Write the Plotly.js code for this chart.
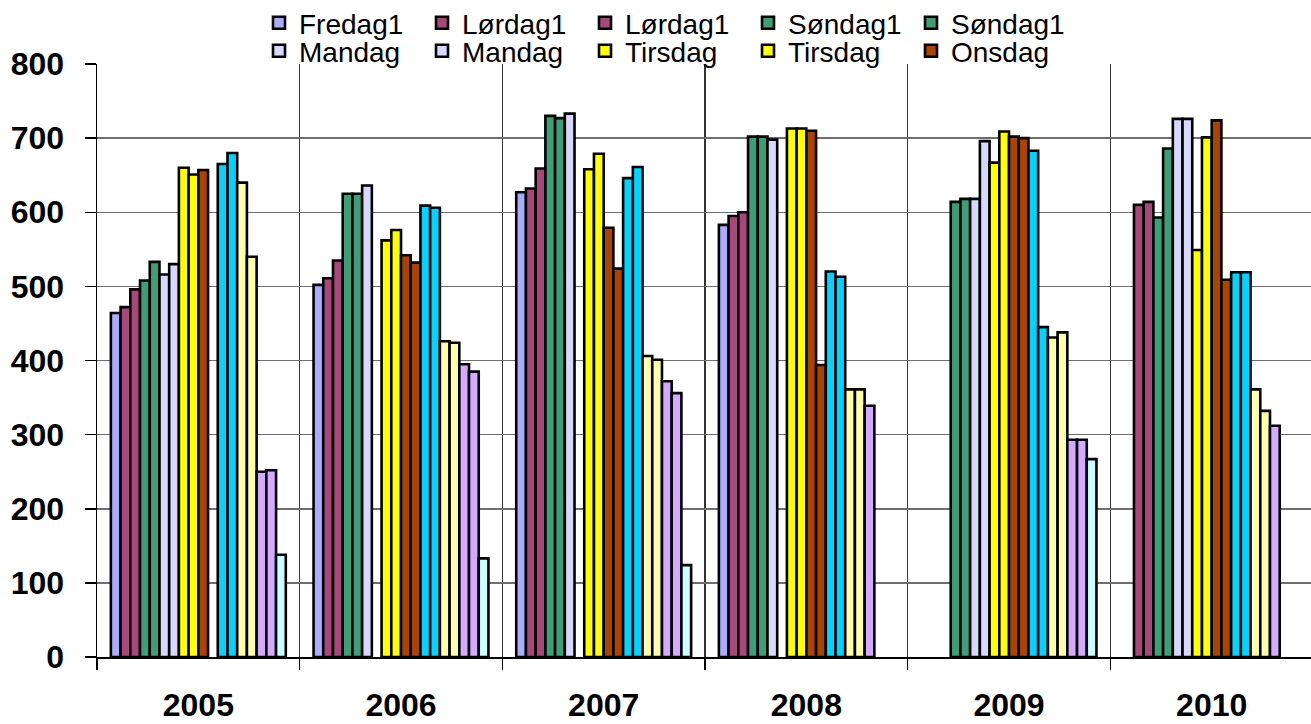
<!DOCTYPE html>
<html>
<head>
<meta charset="utf-8">
<script src="https://cdn.plot.ly/plotly-3.0.1.min.js"></script>
<style>
  html, body { margin: 0; padding: 0; background: #ffffff; }
  #chart { width: 1311px; height: 724px; }
</style>
</head>
<body>
<div id="chart"></div>
<script>
// ---- data ----
var years = ["2005", "2006", "2007", "2008", "2009", "2010"];

var fredag1   = [464, 502, 627, 583, null, null];
var lordag1a  = [472, 511, 632, 595, null, 610];
var lordag1b  = [496, 535, 659, 600, null, 614];
var sondag1a  = [508, 625, 730, 702, 614, 593];
var sondag1b  = [533, 625, 727, 702, 618, 686];
var mandagA   = [516, 636, 733, 698, 618, 726];
var mandagB   = [530, null, null, null, 696, 726];
var tirsdagA  = [660, 562, 658, 713, 667, 549];
var tirsdagB  = [651, 576, 679, 713, 709, 701];
var onsdagA   = [657, 542, 579, 710, 702, 724];
var onsdagB   = [null, 532, 524, 394, 700, 509];
var serie12   = [665, 609, 646, 520, 683, 519];
var serie13   = [680, 606, 661, 513, 445, 519];
var serie14   = [640, 426, 406, 361, 431, 361];
var serie15   = [540, 424, 401, 361, 438, 332];
var serie16   = [250, 395, 372, 339, 293, 312];
var serie17   = [252, 385, 356, null, 293, null];
var serie18   = [138, 133, 124, null, 267, null];

var seriesNames = ["Fredag1", "Lørdag1", "Lørdag1", "Søndag1", "Søndag1",
                   "Mandag", "Mandag", "Tirsdag", "Tirsdag", "Onsdag",
                   "Onsdag", "Torsdag", "Torsdag", "Fredag", "Fredag",
                   "Lørdag", "Lørdag", "Søndag"];
var seriesValues = [fredag1, lordag1a, lordag1b, sondag1a, sondag1b,
                    mandagA, mandagB, tirsdagA, tirsdagB, onsdagA,
                    onsdagB, serie12, serie13, serie14, serie15,
                    serie16, serie17, serie18];
var seriesColors = ["#a9acff", "#a8487a", "#a8487a", "#3c9f78", "#3c9f78",
                    "#d8d8ff", "#d8d8ff", "#ffff00", "#ffff00", "#aa4400",
                    "#aa4400", "#00d4ff", "#00d4ff", "#ffffaa", "#ffffaa",
                    "#d4aaff", "#d4aaff", "#ccffff"];

// ---- traces ----
var traces = seriesValues.map(function (vals, i) {
  return {
    type: "bar",
    name: seriesNames[i],
    x: years,
    y: vals,
    marker: { color: seriesColors[i], line: { color: "#000000", width: 2.6 } },
    showlegend: i < 10,
    legend: i < 5 ? "legend" : "legend2",
    hoverinfo: "x+y+name"
  };
});

var font = "Liberation Sans, Arial, sans-serif";
var legendCommon = {
  orientation: "h",
  xref: "container",
  yref: "container",
  x: 259 / 1311,
  xanchor: "left",
  yanchor: "middle",
  bgcolor: "rgba(0,0,0,0)",
  borderwidth: 0,
  entrywidth: 118,
  entrywidthmode: "pixels",
  font: { family: font, size: 28, color: "#000000" },
  traceorder: "normal"
};

var layout = {
  width: 1311,
  height: 724,
  paper_bgcolor: "#ffffff",
  plot_bgcolor: "#ffffff",
  margin: { l: 97, r: 0, t: 64, b: 67, pad: 0, autoexpand: false },
  barmode: "group",
  bargap: 0.137,
  bargroupgap: 0,
  xaxis: {
    type: "category",
    range: [-0.5, 5.49],
    tickson: "boundaries",
    ticks: "outside",
    ticklen: 11,
    tickwidth: 1.5,
    tickcolor: "#000000",
    showgrid: true,
    gridcolor: "#333333",
    gridwidth: 1.2,
    showline: true,
    linecolor: "#000000",
    linewidth: 1.5,
    ticklabelstandoff: 19,
    tickfont: { family: font, size: 32, color: "#000000", weight: "bold" },
    zeroline: false,
    automargin: false,
    fixedrange: true
  },
  yaxis: {
    range: [0, 800],
    dtick: 100,
    tick0: 0,
    ticks: "outside",
    ticklen: 11,
    tickwidth: 1.5,
    tickcolor: "#000000",
    showgrid: true,
    gridcolor: "#6e6e6e",
    gridwidth: 1.5,
    showline: true,
    linecolor: "#000000",
    linewidth: 1.5,
    zeroline: false,
    ticklabelstandoff: 14,
    tickfont: { family: font, size: 32, color: "#000000", weight: "bold" },
    automargin: false,
    fixedrange: true
  },
  legend: Object.assign({}, legendCommon, { y: 1 - 23 / 724 }),
  legend2: Object.assign({}, legendCommon, { y: 1 - 51 / 724 }),
  showlegend: true
};

Plotly.newPlot("chart", traces, layout, { displayModeBar: false, staticPlot: true });
</script>
</body>
</html>
